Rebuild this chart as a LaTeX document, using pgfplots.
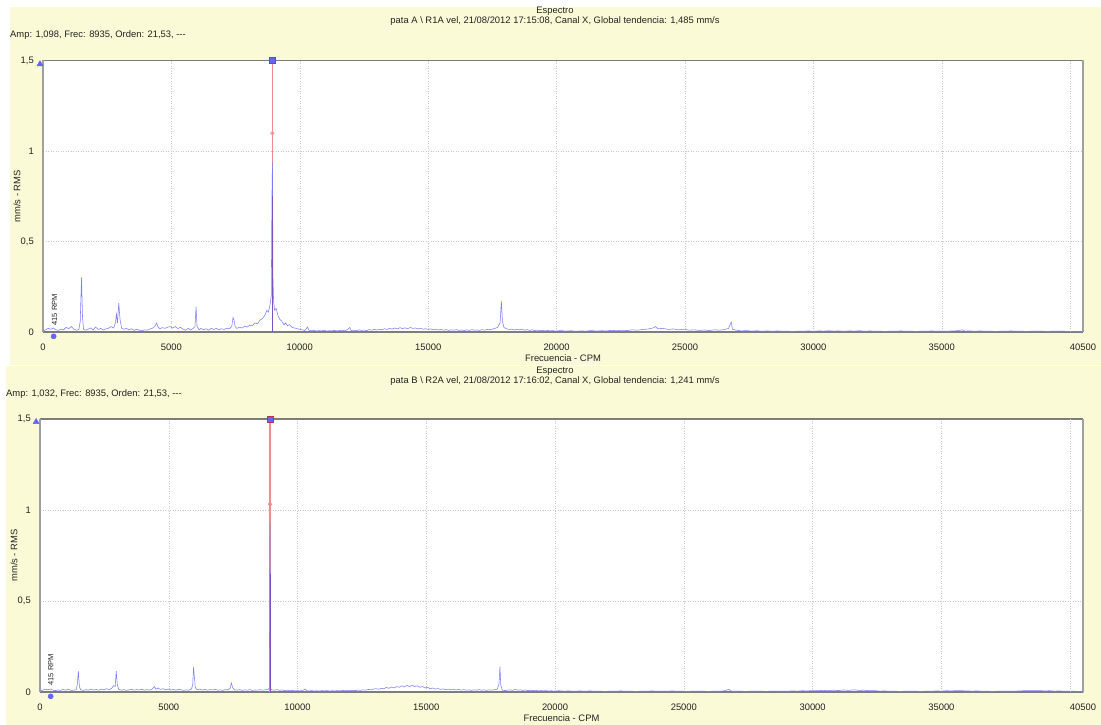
\documentclass[border=0pt]{standalone}
\usepackage{pgfplots}
\pgfplotsset{compat=1.18}
\usepackage{fontspec}
\setmainfont{Liberation Sans}
\definecolor{bgy}{RGB}{250,250,214}
\definecolor{specblue}{RGB}{125,125,255}
\definecolor{markblue}{RGB}{100,100,245}
\definecolor{cursred}{RGB}{240,140,140}
\definecolor{darkpk}{RGB}{125,80,200}
\definecolor{sqedge}{RGB}{190,50,80}
\definecolor{gridc}{RGB}{200,200,200}
\definecolor{txt}{RGB}{35,35,35}
\definecolor{xaxc}{RGB}{125,125,125}
\definecolor{yaxc}{RGB}{160,160,160}
\newcommand{\ft}{\fontsize{9.4}{10}\selectfont}
\pgfplotsset{spec/.style={
  scale only axis, clip=false,
  xmin=0, xmax=40500, ymin=0, ymax=1.5,
  scaled x ticks=false, scaled y ticks=false,
  axis background/.style={fill=white},
  xtick={0,5000,10000,15000,20000,25000,30000,35000,40500},
  xticklabels={0,5000,10000,15000,20000,25000,30000,35000,40500},
  extra x ticks={40000}, extra x tick labels={},
  extra x tick style={grid=major},
  ytick={0,0.5,1,1.5}, yticklabels={0,{0,5},1,{1,5}},
  grid=major,
  major grid style={gridc, dash pattern=on 1pt off 1.5pt, line width=0.5pt},
  major tick length=0pt,
  separate axis lines,
  x axis line style={draw=xaxc, line width=1.1pt},
  y axis line style={draw=yaxc, line width=1.8pt},
  tick label style={font=\ft, text=txt},
  xticklabel style={anchor=center, yshift=-15pt},
  yticklabel style={anchor=east, inner sep=0pt, xshift=-9pt},
  xlabel={Frecuencia - CPM}, ylabel={mm/s - RMS},
  label style={font=\ft, text=txt},
  xlabel style={at={(axis description cs:0.5,0)}, anchor=center, yshift=-26pt},
  ylabel style={at={(axis description cs:-0.025,0.5)}, anchor=center},
}}
\begin{document}
\begin{tikzpicture}
\useasboundingbox (0pt,0pt) rectangle (1101pt,725pt);
\fill[white] (0pt,0pt) rectangle (1101pt,725pt);
\fill[bgy] (10pt,360pt) rectangle (1101pt,718pt);
\fill[bgy] (6pt,0pt) rectangle (1101pt,359pt);
% titles top
\node[font=\ft, text=txt] at (555pt,714pt) {Espectro};
\node[font=\ft, text=txt] at (555pt,704pt) {pata A \textbackslash\ R1A vel, 21/08/2012 17:15:08, Canal X, Global tendencia: 1,485 mm/s};
\node[font=\ft, text=txt, anchor=west, inner sep=0pt] at (10pt,690pt) {Amp: 1,098, Frec: 8935, Orden: 21,53, -{}-{}-};
% titles bottom
\node[font=\ft, text=txt] at (555pt,354pt) {Espectro};
\node[font=\ft, text=txt] at (555pt,344pt) {pata B \textbackslash\ R2A vel, 21/08/2012 17:16:02, Canal X, Global tendencia: 1,241 mm/s};
\node[font=\ft, text=txt, anchor=west, inner sep=0pt] at (6pt,331pt) {Amp: 1,032, Frec: 8935, Orden: 21,53, -{}-{}-};

\begin{axis}[spec, at={(43pt,393pt)}, anchor=origin, width=1040pt, height=271.5pt]
\addplot[cursred, line width=1.3pt] coordinates {(8935,0)(8935,1.5)};
\addplot[specblue, line width=0.55pt] coordinates {
(0,0.005)(100,0.012)(200,0.02)(300,0.015)(400,0.022)(500,0.012)(600,0.009)(700,0.016)(800,0.012)(900,0.026)(1000,0.018)(1100,0.03)(1200,0.016)(1300,0.01)(1400,0.014)(1450,0.06)(1500,0.30)(1540,0.08)(1580,0.015)(1650,0.01)(1750,0.015)(1850,0.022)(1950,0.012)(2050,0.027)(2150,0.014)(2250,0.02)(2350,0.011)(2450,0.017)(2550,0.021)(2650,0.03)(2750,0.022)(2820,0.05)(2860,0.10)(2900,0.05)(2950,0.16)(3000,0.07)(3060,0.022)(3150,0.015)(3250,0.02)(3350,0.012)(3450,0.018)(3550,0.009)(3650,0.016)(3750,0.01)(3850,0.007)(3950,0.012)(4050,0.01)(4150,0.016)(4250,0.02)(4350,0.03)(4420,0.05)(4480,0.028)(4550,0.018)(4650,0.024)(4750,0.02)(4850,0.026)(4950,0.03)(5050,0.022)(5150,0.03)(5250,0.019)(5350,0.026)(5450,0.016)(5550,0.01)(5650,0.02)(5750,0.012)(5850,0.02)(5920,0.03)(5960,0.14)(6000,0.03)(6080,0.012)(6150,0.02)(6250,0.012)(6350,0.018)(6450,0.01)(6550,0.02)(6650,0.014)(6750,0.02)(6850,0.012)(6950,0.018)(7050,0.014)(7150,0.021)(7250,0.018)(7350,0.03)(7400,0.08)(7440,0.065)(7480,0.03)(7550,0.02)(7650,0.026)(7750,0.022)(7850,0.032)(7950,0.027)(8050,0.038)(8150,0.035)(8250,0.05)(8350,0.045)(8450,0.065)(8550,0.075)(8650,0.095)(8720,0.12)(8780,0.11)(8840,0.15)(8890,0.2)(8915,0.75)(8935,0.94)(8955,0.3)(8980,0.17)(9020,0.12)(9080,0.13)(9150,0.09)(9220,0.07)(9300,0.06)(9380,0.04)(9450,0.05)(9520,0.035)(9600,0.04)(9700,0.025)(9800,0.022)(9900,0.018)(10000,0.015)(10100,0.012)(10200,0.008)(10300,0.028)(10350,0.01)(10450,0.007)(10550,0.009)(10650,0.005)(10750,0.008)(10850,0.006)(10950,0.01)(11050,0.005)(11150,0.007)(11250,0.006)(11350,0.009)(11450,0.006)(11550,0.008)(11650,0.01)(11750,0.007)(11850,0.012)(11950,0.025)(12000,0.008)(12100,0.01)(12200,0.007)(12300,0.012)(12400,0.009)(12500,0.011)(12600,0.008)(12700,0.013)(12800,0.01)(12900,0.014)(13000,0.011)(13100,0.015)(13200,0.012)(13300,0.018)(13400,0.014)(13500,0.02)(13600,0.016)(13700,0.022)(13800,0.017)(13900,0.024)(14000,0.019)(14100,0.023)(14200,0.018)(14300,0.025)(14400,0.02)(14500,0.022)(14600,0.017)(14700,0.021)(14800,0.015)(14900,0.018)(15000,0.014)(15100,0.017)(15200,0.012)(15300,0.015)(15400,0.011)(15500,0.014)(15600,0.01)(15700,0.013)(15800,0.009)(15900,0.012)(16000,0.01)(16100,0.013)(16200,0.009)(16300,0.011)(16400,0.008)(16500,0.012)(16600,0.009)(16700,0.013)(16800,0.01)(16900,0.011)(17000,0.009)(17100,0.013)(17200,0.01)(17300,0.014)(17400,0.012)(17500,0.016)(17600,0.02)(17700,0.025)(17800,0.05)(17850,0.17)(17890,0.06)(17950,0.025)(18050,0.018)(18150,0.014)(18250,0.016)(18350,0.011)(18450,0.015)(18550,0.012)(18650,0.016)(18750,0.01)(18850,0.013)(18950,0.009)(19050,0.012)(19150,0.008)(19250,0.011)(19350,0.007)(19450,0.01)(19550,0.006)(19650,0.009)(19750,0.006)(19850,0.008)(19950,0.005)
(20150,0.008)(20350,0.005)(20550,0.007)(20750,0.004)(20950,0.006)(21150,0.005)(21350,0.008)(21550,0.005)(21750,0.007)(21950,0.006)(22150,0.009)(22350,0.007)(22550,0.01)(22750,0.008)(22950,0.012)(23150,0.01)(23350,0.014)(23550,0.016)(23750,0.022)(23850,0.03)(23950,0.018)(24150,0.02)(24350,0.014)(24550,0.017)(24750,0.012)(24950,0.015)(25150,0.01)(25350,0.012)(25550,0.009)(25750,0.011)(25950,0.008)(26150,0.012)(26350,0.01)(26550,0.014)(26700,0.02)(26800,0.055)(26850,0.015)(27000,0.01)(27200,0.006)(27400,0.008)(27600,0.005)(27800,0.007)(28000,0.004)(28200,0.006)(28400,0.004)(28600,0.006)(28800,0.004)(29000,0.005)(29200,0.003)(29400,0.005)(29600,0.004)(29800,0.006)(30000,0.004)(30200,0.006)(30400,0.005)(30600,0.007)(30800,0.005)(31000,0.006)(31200,0.004)(31400,0.006)(31600,0.005)(31800,0.007)(32000,0.004)(32200,0.006)(32400,0.004)(32600,0.005)(32800,0.003)(33000,0.005)(33200,0.004)(33400,0.006)(33600,0.004)(33800,0.005)(34000,0.003)(34200,0.005)(34400,0.004)(34600,0.006)(34800,0.004)(35000,0.005)(35200,0.004)(35400,0.006)(35600,0.007)(35800,0.012)(35900,0.005)(36100,0.006)(36300,0.004)(36500,0.006)(36700,0.004)(36900,0.005)(37100,0.003)(37300,0.005)(37500,0.004)(37700,0.006)(37900,0.004)(38100,0.005)(38300,0.003)(38500,0.005)(38700,0.004)(38900,0.005)(39100,0.003)(39300,0.005)(39500,0.004)(39700,0.005)(39900,0.003)(40100,0.004)(40300,0.003)(40500,0.003)};
\addplot[darkpk, line width=1.1pt] coordinates {(8935,0)(8935,0.75)};
\addplot[only marks, mark=o, mark size=1.8pt, cursred, mark options={fill=white, line width=0.7pt}] coordinates {(8935,1.098)};
\addplot[only marks, mark=square*, mark size=3pt, mark options={draw=sqedge, fill=markblue, line width=0.8pt}] coordinates {(8935,1.5)};
\addplot[only marks, mark=triangle*, mark size=3.5pt, markblue] coordinates {(-117,1.48)};
\addplot[only marks, mark=*, mark size=2.6pt, markblue] coordinates {(415,-0.024)};
\node[rotate=90, anchor=west, font=\fontsize{7.5}{8}\selectfont, text=txt, inner sep=0pt] at (axis cs:450,0.035) {415 RPM};
\end{axis}

\begin{axis}[spec, at={(40pt,33pt)}, anchor=origin, width=1043pt, height=273pt]
\addplot[cursred, line width=1.3pt] coordinates {(8935,0)(8935,1.5)};
\addplot[specblue, line width=0.55pt] coordinates {
(0,0.004)(100,0.01)(200,0.015)(300,0.012)(400,0.016)(500,0.01)(600,0.008)(700,0.011)(800,0.009)(900,0.014)(1000,0.01)(1100,0.015)(1200,0.009)(1300,0.01)(1400,0.012)(1450,0.04)(1490,0.115)(1530,0.03)(1580,0.012)(1680,0.009)(1780,0.013)(1880,0.01)(1980,0.016)(2080,0.011)(2180,0.014)(2280,0.01)(2380,0.016)(2480,0.012)(2580,0.018)(2680,0.013)(2780,0.02)(2860,0.035)(2920,0.03)(2960,0.115)(3000,0.04)(3060,0.015)(3160,0.01)(3260,0.013)(3360,0.009)(3460,0.012)(3560,0.014)(3660,0.01)(3760,0.013)(3860,0.011)(3960,0.015)(4060,0.01)(4160,0.013)(4260,0.011)(4360,0.016)(4440,0.03)(4500,0.015)(4580,0.022)(4680,0.014)(4780,0.018)(4880,0.012)(4980,0.016)(5080,0.011)(5180,0.014)(5280,0.01)(5380,0.015)(5480,0.012)(5580,0.009)(5680,0.012)(5780,0.01)(5880,0.016)(5930,0.04)(5960,0.135)(5990,0.09)(6030,0.025)(6100,0.012)(6200,0.016)(6300,0.011)(6400,0.014)(6500,0.01)(6600,0.013)(6700,0.011)(6800,0.015)(6900,0.01)(7000,0.012)(7100,0.009)(7200,0.013)(7300,0.012)(7380,0.02)(7430,0.05)(7480,0.025)(7550,0.012)(7650,0.01)(7750,0.013)(7850,0.009)(7950,0.012)(8050,0.01)(8150,0.013)(8250,0.009)(8350,0.011)(8450,0.01)(8550,0.013)(8650,0.01)(8750,0.012)(8850,0.015)(8905,0.02)(8920,0.65)(8935,0.93)(8950,0.02)(9000,0.012)(9100,0.01)(9200,0.013)(9300,0.009)(9400,0.011)(9500,0.008)(9600,0.01)(9700,0.007)(9800,0.009)(9900,0.006)(10000,0.008)(10100,0.006)(10200,0.009)(10300,0.016)(10350,0.007)(10450,0.006)(10550,0.008)(10650,0.005)(10750,0.007)(10850,0.005)(10950,0.008)(11050,0.006)(11150,0.008)(11250,0.005)(11350,0.007)(11450,0.006)(11550,0.008)(11650,0.006)(11750,0.009)(11850,0.007)(11950,0.01)(12050,0.007)(12150,0.009)(12250,0.008)(12350,0.011)(12450,0.009)(12550,0.012)(12650,0.01)(12750,0.014)(12850,0.012)(12950,0.016)(13050,0.018)(13150,0.015)(13250,0.02)(13350,0.018)(13450,0.025)(13550,0.02)(13650,0.028)(13750,0.022)(13850,0.03)(13950,0.026)(14050,0.034)(14150,0.028)(14250,0.036)(14350,0.03)(14450,0.038)(14550,0.03)(14650,0.034)(14750,0.026)(14850,0.03)(14950,0.022)(15050,0.026)(15150,0.018)(15250,0.022)(15350,0.016)(15450,0.019)(15550,0.014)(15650,0.017)(15750,0.013)(15850,0.016)(15950,0.012)(16050,0.015)(16150,0.011)(16250,0.014)(16350,0.01)(16450,0.013)(16550,0.01)(16650,0.012)(16750,0.009)(16850,0.012)(16950,0.01)(17050,0.013)(17150,0.01)(17250,0.012)(17350,0.009)(17450,0.012)(17550,0.01)(17650,0.013)(17750,0.015)(17820,0.04)(17860,0.14)(17890,0.04)(17950,0.01)(18050,0.008)(18150,0.01)(18250,0.012)(18350,0.009)(18450,0.014)(18550,0.01)(18650,0.012)(18750,0.009)(18850,0.011)(18950,0.008)(19050,0.01)(19150,0.007)(19250,0.009)(19350,0.006)(19450,0.008)(19550,0.006)(19650,0.008)(19750,0.005)(19850,0.007)(19950,0.005)
(20150,0.007)(20350,0.005)(20550,0.006)(20750,0.004)(20950,0.006)(21150,0.004)(21350,0.006)(21550,0.004)(21750,0.005)(21950,0.003)(22150,0.005)(22350,0.004)(22550,0.006)(22750,0.004)(22950,0.005)(23150,0.003)(23350,0.005)(23550,0.004)(23750,0.006)(23950,0.004)(24150,0.005)(24350,0.004)(24550,0.006)(24750,0.004)(24950,0.005)(25150,0.003)(25350,0.005)(25550,0.004)(25750,0.005)(25950,0.003)(26150,0.005)(26350,0.004)(26550,0.006)(26750,0.014)(26850,0.005)(27000,0.004)(27200,0.005)(27400,0.003)(27600,0.005)(27800,0.004)(28000,0.005)(28200,0.003)(28400,0.005)(28600,0.004)(28800,0.005)(29000,0.004)(29200,0.006)(29400,0.005)(29600,0.007)(29800,0.006)(30000,0.008)(30200,0.007)(30400,0.009)(30600,0.007)(30800,0.01)(31000,0.008)(31200,0.011)(31400,0.009)(31600,0.012)(31800,0.009)(32000,0.01)(32200,0.007)(32400,0.008)(32600,0.005)(32800,0.006)(33000,0.004)(33200,0.005)(33400,0.003)(33600,0.005)(33800,0.004)(34000,0.005)(34200,0.003)(34400,0.005)(34600,0.004)(34800,0.006)(35000,0.005)(35200,0.007)(35400,0.006)(35600,0.008)(35800,0.007)(36000,0.006)(36200,0.005)(36400,0.006)(36600,0.004)(36800,0.005)(37000,0.003)(37200,0.005)(37400,0.004)(37600,0.005)(37800,0.004)(38000,0.006)(38200,0.007)(38400,0.008)(38600,0.007)(38800,0.008)(39000,0.006)(39200,0.007)(39400,0.005)(39600,0.006)(39800,0.004)(40000,0.005)(40200,0.004)(40500,0.003)};
\addplot[darkpk, line width=1.1pt] coordinates {(8935,0)(8935,0.65)};
\addplot[only marks, mark=o, mark size=1.8pt, cursred, mark options={fill=white, line width=0.7pt}] coordinates {(8935,1.032)};
\addplot[only marks, mark=square*, mark size=3pt, mark options={draw=sqedge, fill=markblue, line width=0.8pt}] coordinates {(8935,1.5)};
\addplot[only marks, mark=triangle*, mark size=3.5pt, markblue] coordinates {(-150,1.484)};
\addplot[only marks, mark=*, mark size=2.6pt, markblue] coordinates {(415,-0.024)};
\node[rotate=90, anchor=west, font=\fontsize{7.5}{8}\selectfont, text=txt, inner sep=0pt] at (axis cs:420,0.035) {415 RPM};
\end{axis}
\end{tikzpicture}
\end{document}
